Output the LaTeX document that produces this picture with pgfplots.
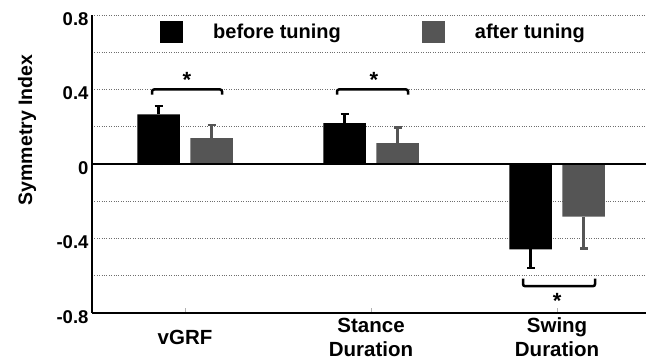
\documentclass[border=0pt]{standalone}
\usepackage{pgfplots}
\pgfplotsset{compat=1.18}
\usepackage{pgfplotstable}
\usepackage{fontspec}
\setmainfont{Liberation Sans}
\definecolor{afterc}{RGB}{85,85,85}
\definecolor{gridc}{RGB}{110,110,110}

% x = category position (0,1,2) shifted to the bar centre; e = error (away from zero)
\pgfplotstableread{
x y e
-0.1425 0.267 0.043
0.8575 0.219 0.051
1.8575 -0.459 0.101
}\before
\pgfplotstableread{
x y e
0.1425 0.139 0.069
1.1425 0.112 0.085
2.1425 -0.283 0.170
}\after

\begin{document}
\begin{tikzpicture}
\begin{axis}[
  name=ax,
  scale only axis,
  width=554pt, height=298pt,
  xmin=-0.5, xmax=2.478,
  ymin=-0.8, ymax=0.8,
  axis x line*=bottom, axis y line*=left,
  axis line style={line width=1.3pt, -},
  xtick={0,1,2},
  xticklabels={vGRF, Stance\\Duration, Swing\\Duration},
  xticklabel style={align=center, anchor=center, yshift=-24pt, font=\fontsize{20.5}{24}\selectfont\bfseries},
  ytick={-0.8,-0.4,0,0.4,0.8},
  yticklabels={-0.8,-0.4,0,0.4,0.8},
  yticklabel style={font=\fontsize{18.5}{20}\selectfont\bfseries, yshift=-4pt},
  tick align=inside,
  major tick length=5pt,
  xtick style={gray!60, line width=0.6pt},
  ytick style={draw=none},
  minor y tick style={draw=none},
  minor y tick num=1,
  ymajorgrids, yminorgrids,
  major grid style={gridc, line width=0.7pt, dash pattern=on 0.8pt off 1.6pt},
  minor grid style={gridc, line width=0.7pt, dash pattern=on 0.8pt off 1.6pt},
  ylabel={Symmetry Index},
  ylabel style={at={(axis description cs:-0.117,0.614)}, anchor=center, font=\fontsize{19.5}{20}\selectfont\bfseries},
  legend columns=2,
  legend style={at={(axis description cs:0.1227,0.943)}, anchor=west, draw=none, fill=none, inner sep=0pt,
    nodes={inner sep=0pt},
    font=\fontsize{20}{22}\selectfont\bfseries,
    /tikz/every odd column/.append style={column sep=30pt},
    /tikz/every even column/.append style={column sep=81pt}},
  every error bar/.append style={line width=2.4pt},
]
\addplot[ybar, bar width=42.5pt, bar shift=0pt, fill=black, draw=none,
  legend image code/.code={\fill[black] (0pt,-11pt) rectangle (23pt,11pt);}]
  table[x=x, y=y] {\before};
\addlegendentry{before tuning}
\addplot[ybar, bar width=42.5pt, bar shift=0pt, fill=afterc, draw=none,
  legend image code/.code={\fill[afterc] (0pt,-11pt) rectangle (23pt,11pt);}]
  table[x=x, y=y] {\after};
\addlegendentry{after tuning}
% error bars (one-sided, away from zero)
\addplot[forget plot, draw=none, mark=none, black,
  error bars/.cd, y dir=plus, y explicit,
  error bar style={line width=2.4pt, draw=black, solid},
  error mark options={rotate=90, mark size=4pt, line width=2.4pt, black}]
  table[x=x, y=y, y error=e, restrict expr to domain={\thisrow{y}}{0:1}] {\before};
\addplot[forget plot, draw=none, mark=none, black,
  error bars/.cd, y dir=minus, y explicit,
  error bar style={line width=2.4pt, draw=black, solid},
  error mark options={rotate=90, mark size=4pt, line width=2.4pt, black}]
  table[x=x, y=y, y error=e, restrict expr to domain={\thisrow{y}}{-1:0}] {\before};
\addplot[forget plot, draw=none, mark=none, afterc,
  error bars/.cd, y dir=plus, y explicit,
  error bar style={line width=2.4pt, draw=afterc, solid},
  error mark options={rotate=90, mark size=4pt, line width=2.4pt, afterc}]
  table[x=x, y=y, y error=e, restrict expr to domain={\thisrow{y}}{0:1}] {\after};
\addplot[forget plot, draw=none, mark=none, afterc,
  error bars/.cd, y dir=minus, y explicit,
  error bar style={line width=2.4pt, draw=afterc, solid},
  error mark options={rotate=90, mark size=4pt, line width=2.4pt, afterc}]
  table[x=x, y=y, y error=e, restrict expr to domain={\thisrow{y}}{-1:0}] {\after};
\addplot[black, line width=1.3pt, forget plot] coordinates {(-0.5,0) (2.478,0)};
% significance brackets
\addplot[black, line width=2.5pt, rounded corners=2pt, forget plot] coordinates {(-0.177,0.372) (-0.177,0.40) (0.199,0.40) (0.199,0.372)};
\addplot[black, line width=2.5pt, rounded corners=2pt, forget plot] coordinates {(0.817,0.372) (0.817,0.40) (1.199,0.40) (1.199,0.372)};
\addplot[black, line width=2.5pt, rounded corners=2pt, forget plot] coordinates {(1.817,-0.615) (1.817,-0.656) (2.204,-0.656) (2.204,-0.615)};
\node[anchor=base, yshift=-11pt, font=\fontsize{22}{22}\selectfont\bfseries] at (axis cs:0.01,0.47) {*};
\node[anchor=base, yshift=-11pt, font=\fontsize{22}{22}\selectfont\bfseries] at (axis cs:1.016,0.47) {*};
\node[anchor=base, yshift=-11pt, font=\fontsize{22}{22}\selectfont\bfseries] at (axis cs:2.0,-0.715) {*};
\end{axis}
\pgfresetboundingbox
\path[use as bounding box] ([shift={(-92pt,-47pt)}]ax.south west) rectangle ([shift={(0pt,15pt)}]ax.north east);
\end{tikzpicture}
\end{document}
